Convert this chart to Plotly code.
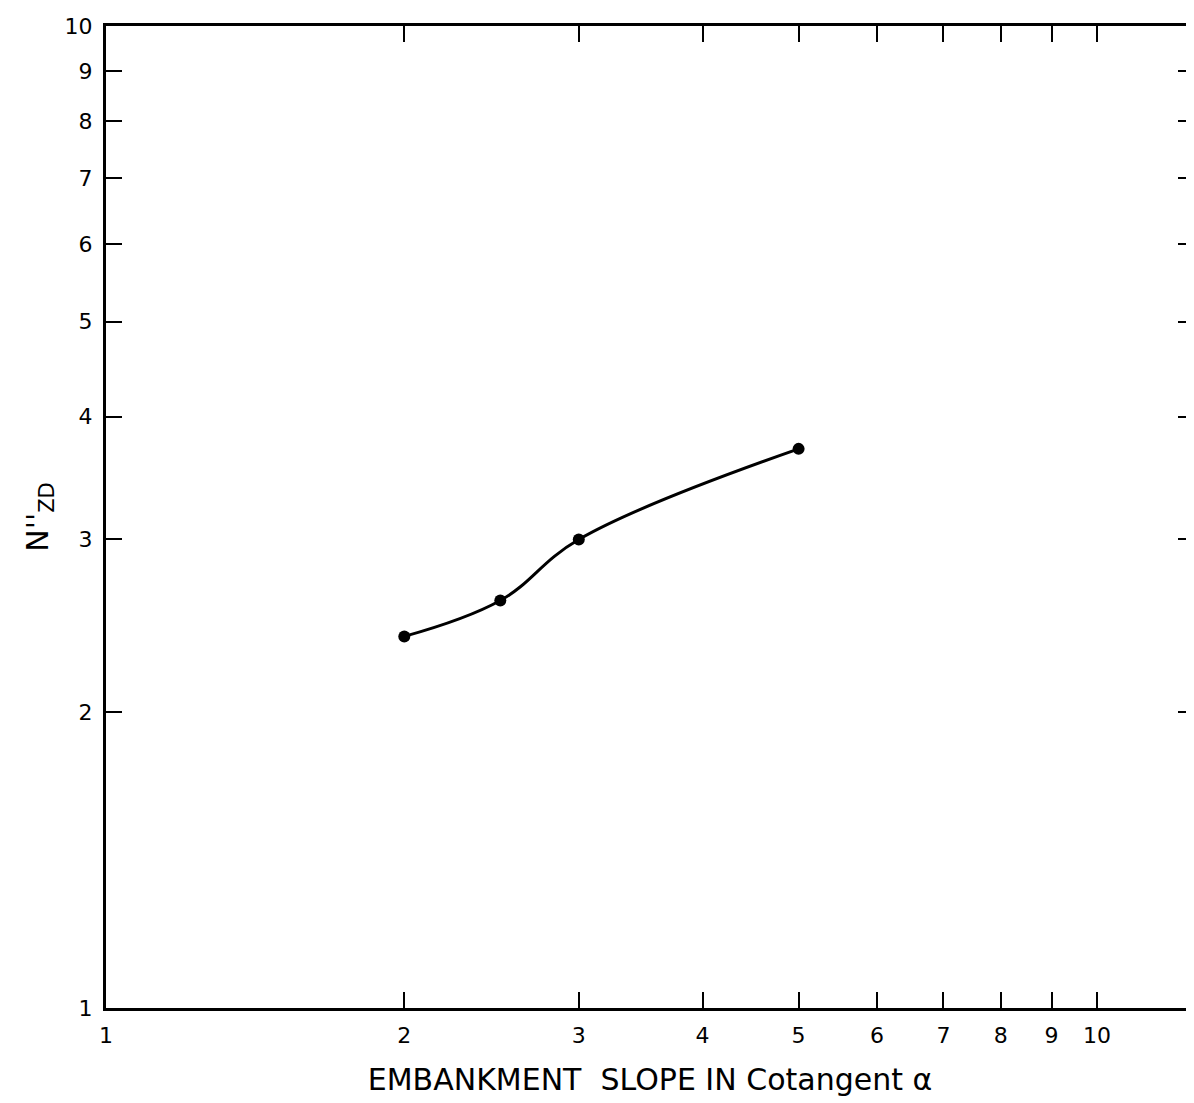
import plotly.graph_objects as go

slope_cot = [2, 2.5, 3, 5]
n_zd = [2.39, 2.60, 3.00, 3.71]

x_ticks = [1, 2, 3, 4, 5, 6, 7, 8, 9, 10]
x_ticklabels = ["1", "2", "3", "4", "5", "6", "7", "8", "9", "10"]
y_ticks = [1, 2, 3, 4, 5, 6, 7, 8, 9, 10]
y_ticklabels = ["1", "2", "3", "4", "5", "6", "7", "8", "9", "10"]

fig = go.Figure()
fig.add_trace(go.Scatter(
    x=slope_cot, y=n_zd, mode="lines+markers",
    line=dict(color="black", width=3, shape="spline", smoothing=1.1),
    marker=dict(color="black", size=12),
    showlegend=False,
))

font_family = "DejaVu Sans"
fig.update_layout(
    width=1186, height=1095,
    margin=dict(l=98, r=0, t=18, b=95, autoexpand=False),
    paper_bgcolor="white", plot_bgcolor="white",
    font=dict(family=font_family, color="black", size=20),
)
fig.update_xaxes(
    type="log", range=[0, 1.098], automargin=False,
    tickvals=x_ticks, ticktext=x_ticklabels,
    ticks="inside", ticklen=16, tickwidth=2, tickcolor="black",
    showline=True, linewidth=3, linecolor="black", mirror="ticks",
    showgrid=False, zeroline=False,
    tickfont=dict(size=22), ticklabelstandoff=6,
    title=dict(text="EMBANKMENT  SLOPE IN Cotangent α", font=dict(size=30), standoff=22),
)
fig.update_yaxes(
    type="log", range=[0, 1], automargin=False,
    tickvals=y_ticks, ticktext=y_ticklabels,
    ticks="inside", ticklen=16, tickwidth=2, tickcolor="black",
    showline=True, linewidth=3, linecolor="black", mirror="ticks",
    showgrid=False, zeroline=False,
    tickfont=dict(size=22), ticklabelstandoff=6,
    title=dict(text="N''<sub>ZD</sub>", font=dict(size=30), standoff=8),
)

fig.write_html("out.html")
